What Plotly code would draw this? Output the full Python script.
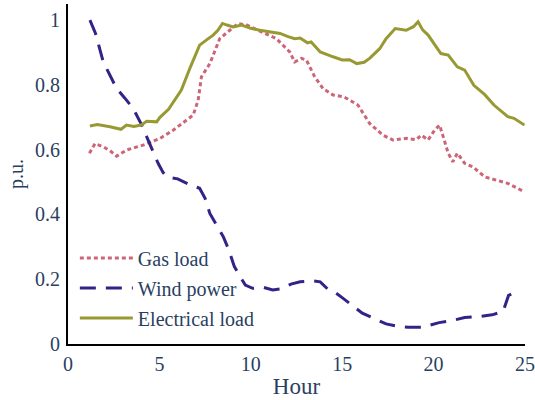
import plotly.graph_objects as go

# ---- data ----
elec_hour = [1.2, 1.6, 2.3, 2.9, 3.2, 3.6, 4.0, 4.3, 4.85, 5.03, 5.5, 5.94, 6.2, 6.7, 7.2, 7.6, 7.94,
             8.2, 8.45, 8.7, 9.03, 9.5, 10.0, 10.5, 11.0, 11.6, 12.0, 12.4, 12.7, 13.1, 13.3, 13.8,
             14.5, 15.0, 15.4, 15.8, 16.2, 16.5, 17.05, 17.4, 17.9, 18.5, 18.9, 19.15, 19.4, 19.7,
             20.4, 20.8, 21.3, 21.7, 22.2, 22.8, 23.3, 24.06, 24.4, 24.97]
elec_load = [0.673, 0.678, 0.671, 0.663, 0.676, 0.672, 0.676, 0.688, 0.686, 0.700, 0.725, 0.761,
             0.784, 0.856, 0.923, 0.940, 0.954, 0.969, 0.990, 0.985, 0.979, 0.985, 0.975, 0.969,
             0.965, 0.959, 0.950, 0.943, 0.945, 0.930, 0.933, 0.902, 0.887, 0.877, 0.878, 0.866,
             0.870, 0.882, 0.912, 0.943, 0.974, 0.969, 0.980, 0.995, 0.970, 0.954, 0.897, 0.892,
             0.856, 0.846, 0.799, 0.770, 0.738, 0.702, 0.697, 0.676]

gas_hour = [1.17, 1.48, 1.93, 2.3, 2.66, 3.2, 4.1, 5.03, 5.75, 6.12, 6.67, 6.85, 7.12, 7.3, 7.76,
            8.3, 8.85, 9.3, 9.77, 10.6, 11.4, 12.13, 12.4, 12.77, 13.04, 13.5, 13.95, 14.5, 15.1,
            15.86, 16.5, 17.23, 17.78, 18.5, 19.05, 19.33, 19.7, 20.05, 20.33, 20.5, 20.8, 21.05,
            21.3, 21.7, 22.15, 22.8, 23.4, 24.06, 24.97]
gas_load = [0.589, 0.619, 0.609, 0.597, 0.580, 0.599, 0.614, 0.635, 0.660, 0.676, 0.700, 0.707,
            0.753, 0.825, 0.866, 0.943, 0.969, 0.990, 0.985, 0.964, 0.943, 0.902, 0.871, 0.882,
            0.877, 0.825, 0.789, 0.769, 0.763, 0.738, 0.681, 0.645, 0.630, 0.635, 0.631, 0.645,
            0.630, 0.660, 0.676, 0.645, 0.589, 0.563, 0.589, 0.558, 0.547, 0.516, 0.506, 0.496,
            0.470]

wind_hour = [1.2, 1.5, 1.93, 2.3, 2.66, 3.1, 3.57, 4.0, 4.3, 4.6, 4.93, 5.2, 5.4, 6.0, 6.5, 6.7,
             7.2, 7.5, 7.76, 8.1, 8.5, 8.8, 9.1, 9.4, 9.7, 10.1, 10.7, 11.2, 11.6, 12.2, 12.7,
             13.4, 13.8, 14.2, 14.6, 15.05, 15.5, 16.1, 16.7, 17.4, 18.0, 18.6, 19.4, 20.0, 20.3,
             21.0, 21.7, 22.5, 23.2, 23.8, 24.1, 24.3]
wind_power = [1.0, 0.96, 0.871, 0.83, 0.789, 0.76, 0.727, 0.68, 0.640, 0.60, 0.558, 0.53, 0.516,
              0.51, 0.495, 0.491, 0.481, 0.45, 0.403, 0.37, 0.331, 0.29, 0.239, 0.21, 0.182,
              0.172, 0.175, 0.167, 0.17, 0.185, 0.192, 0.195, 0.192, 0.17, 0.16, 0.141, 0.12,
              0.095, 0.08, 0.062, 0.055, 0.052, 0.052, 0.062, 0.066, 0.072, 0.082, 0.085, 0.09,
              0.10, 0.15, 0.155]

x_ticks = [0, 5, 10, 15, 20, 25]
y_ticks = [0, 0.2, 0.4, 0.6, 0.8, 1]
y_tick_text = ["0", "0.2", "0.4", "0.6", "0.8", "1"]

FONT = "Liberation Serif"
TXT = "#2a3f5f"

fig = go.Figure()
fig.add_trace(go.Scatter(x=gas_hour, y=gas_load, mode="lines", name="Gas load",
                         legendgroup="g", line=dict(color="#CC6677", width=3, dash="4px,3px")))
fig.add_trace(go.Scatter(x=wind_hour, y=wind_power, mode="lines", name="Wind power",
                         legendgroup="w", line=dict(color="#332288", width=3, dash="16px,10px")))
fig.add_trace(go.Scatter(x=elec_hour, y=elec_load, mode="lines", name="Electrical load",
                         legendgroup="e", line=dict(color="#999933", width=3)))

fig.update_layout(
    width=535, height=400,
    margin=dict(l=68, r=10, t=4, b=56),
    paper_bgcolor="white", plot_bgcolor="white",
    font=dict(family=FONT, size=20, color=TXT),
    showlegend=True,
    legend=dict(x=0.015, y=0.31, xanchor="left", yanchor="top",
                bgcolor="rgba(0,0,0,0)", font=dict(size=20, family=FONT, color=TXT),
                tracegroupgap=1, itemwidth=53),
)
fig.update_xaxes(range=[0, 25], tickvals=x_ticks, showgrid=False, zeroline=False,
                 showline=True, linecolor="black", linewidth=2, automargin=False,
                 ticks="outside", ticklen=1, tickcolor="rgba(0,0,0,0)",
                 tickfont=dict(size=20, family=FONT, color=TXT),
                 title=dict(text="Hour", font=dict(size=23, family=FONT, color=TXT), standoff=4))
fig.update_yaxes(range=[0, 1.05], tickvals=y_ticks, ticktext=y_tick_text, showgrid=False,
                 zeroline=False, showline=True, linecolor="black", linewidth=2, automargin=False,
                 ticks="outside", ticklen=2, tickcolor="rgba(0,0,0,0)",
                 tickfont=dict(size=20, family=FONT, color=TXT),
                 title=dict(text="p.u.", font=dict(size=20, family=FONT, color=TXT), standoff=6))

fig.write_html("out.html", config={"displayModeBar": False},
               post_script="document.body.style.margin='0';document.body.style.overflow='hidden';")
